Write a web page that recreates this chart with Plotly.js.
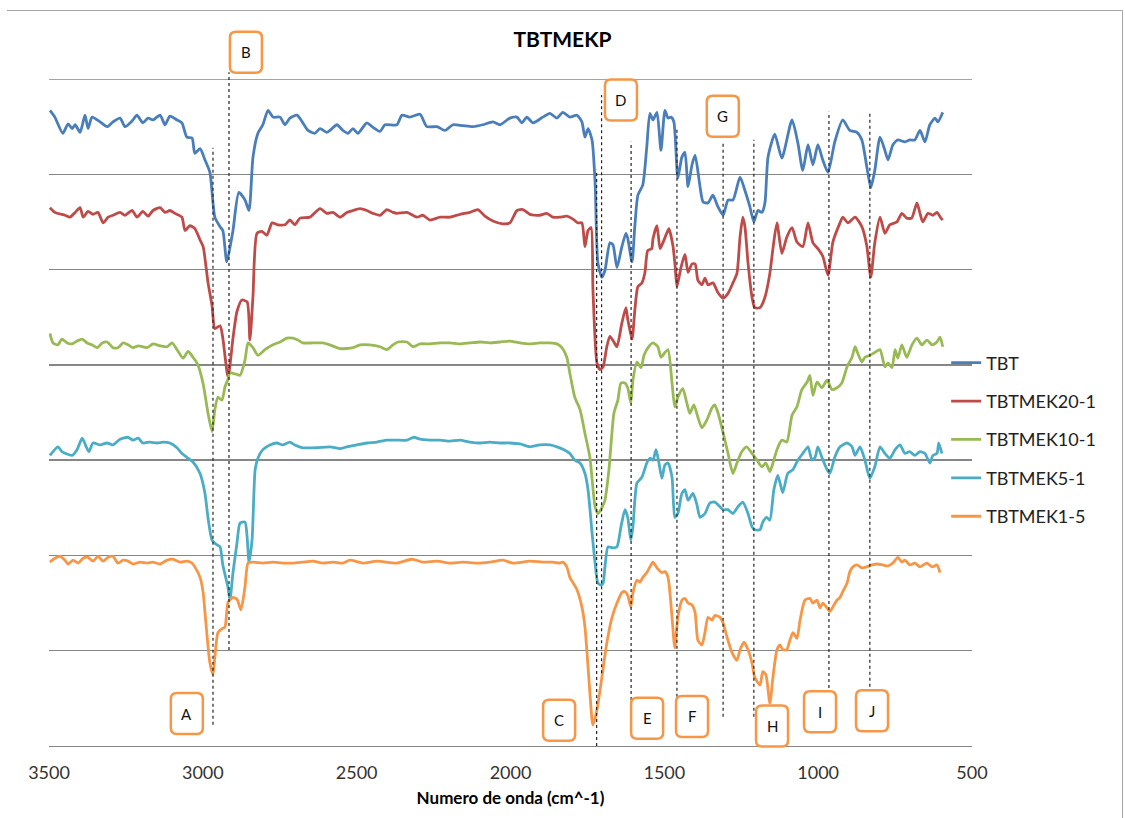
<!DOCTYPE html>
<html>
<head>
<meta charset="utf-8">
<script src="https://cdn.plot.ly/plotly-3.0.1.min.js"></script>
<style>
  html, body { margin: 0; padding: 0; background: #fff; }
  #frame { position: absolute; left: 7px; top: 10px; width: 1115px; height: 900px; border-top: 1.5px solid #a6a6a6; border-right: 1.5px solid #a6a6a6; pointer-events: none; z-index: 5; }
  #chart { position: absolute; left: 0; top: 0; width: 1125px; height: 818px; }
</style>
</head>
<body>
<div id="chart"></div>
<div id="frame"></div>
<script>
// ---------- DATA (wavenumber in cm^-1, offset transmittance in grid units) ----------
const seriesNames = ['TBT', 'TBTMEK20-1', 'TBTMEK10-1', 'TBTMEK5-1', 'TBTMEK1-5'];

const tbt = [[3497,66.7],[3481,66.0],[3455,64.3],[3438,65.3],[3425,64.8],[3415,65.2],[3399,64.4],[3383,66.2],[3373,64.8],[3360,66.0],[3334,65.5],[3311,65.0],[3292,65.5],[3269,65.9],[3253,65.0],[3230,65.6],[3214,66.2],[3195,65.4],[3178,65.9],[3162,65.7],[3139,66.2],[3123,65.2],[3107,66.1],[3084,65.7],[3068,65.4],[3052,63.9],[3035,63.8],[3026,62.2],[3009,62.7],[2993,61.5],[2977,60.2],[2961,55.5],[2944,54.5],[2935,54.1],[2922,50.8],[2902,54.1],[2883,58.1],[2863,57.3],[2850,56.2],[2837,61.8],[2821,64.3],[2805,65.2],[2788,66.7],[2772,66.0],[2749,66.0],[2733,65.2],[2717,65.9],[2694,66.2],[2675,65.4],[2658,64.6],[2636,64.3],[2619,64.8],[2597,64.4],[2587,64.6],[2564,65.2],[2545,64.6],[2528,64.3],[2512,64.8],[2496,64.3],[2467,65.4],[2450,65.0],[2424,64.5],[2408,65.2],[2369,65.2],[2353,66.2],[2327,66.0],[2294,66.3],[2272,65.0],[2239,65.0],[2213,64.6],[2187,65.2],[2155,65.1],[2122,65.0],[2090,65.2],[2057,65.5],[2034,65.2],[2002,65.9],[1979,66.0],[1963,65.4],[1947,66.0],[1927,65.4],[1895,66.0],[1872,66.4],[1849,65.9],[1830,66.5],[1807,66.0],[1784,66.2],[1768,65.5],[1758,63.9],[1748,64.8],[1735,63.6],[1725,59.1],[1716,50.7],[1703,49.2],[1693,49.9],[1677,52.8],[1667,52.6],[1654,50.2],[1638,52.4],[1625,53.8],[1619,53.3],[1605,50.8],[1596,54.5],[1586,57.8],[1570,58.9],[1557,62.9],[1547,66.4],[1537,65.7],[1524,66.5],[1511,62.5],[1498,66.7],[1488,65.9],[1478,66.0],[1469,65.5],[1456,59.6],[1443,61.8],[1433,62.3],[1423,58.7],[1410,61.0],[1400,62.0],[1384,58.7],[1374,57.1],[1358,57.0],[1342,57.8],[1326,56.6],[1309,55.7],[1293,57.3],[1277,57.3],[1254,59.7],[1238,58.3],[1222,56.6],[1209,55.0],[1196,56.2],[1183,56.0],[1173,57.0],[1163,61.8],[1141,64.2],[1118,61.7],[1085,65.7],[1066,63.3],[1050,60.4],[1033,63.1],[1017,61.0],[1001,63.1],[985,61.5],[968,60.2],[946,63.4],[920,65.7],[897,64.6],[874,64.4],[858,63.6],[842,60.8],[829,58.6],[816,60.4],[799,63.9],[783,62.5],[773,61.5],[757,63.1],[741,63.6],[718,63.4],[702,63.6],[686,63.6],[669,64.6],[653,63.4],[637,65.2],[620,65.9],[611,65.5],[595,66.5]];

const tbtmek20 = [[3497,56.5],[3481,56.0],[3448,55.7],[3432,55.5],[3415,56.0],[3399,56.5],[3389,55.5],[3373,56.1],[3357,55.8],[3341,56.0],[3324,54.9],[3308,55.5],[3292,55.7],[3269,56.0],[3253,55.7],[3230,56.2],[3214,55.5],[3195,56.1],[3178,55.6],[3162,56.2],[3139,56.5],[3123,56.0],[3107,56.2],[3091,55.9],[3068,55.5],[3058,54.1],[3042,54.6],[3026,54.3],[3009,53.1],[2999,52.4],[2983,48.6],[2970,46.2],[2961,43.8],[2944,44.1],[2935,42.8],[2918,38.7],[2902,42.8],[2889,45.6],[2873,46.8],[2856,46.6],[2847,42.6],[2837,47.2],[2824,53.8],[2808,54.0],[2792,53.6],[2775,54.9],[2756,54.7],[2733,54.7],[2717,55.2],[2701,54.7],[2684,55.4],[2652,55.5],[2619,56.4],[2597,55.9],[2577,56.0],[2554,55.5],[2532,56.0],[2512,56.2],[2489,56.4],[2467,56.2],[2447,55.9],[2424,55.7],[2402,56.3],[2382,56.0],[2369,55.9],[2337,56.0],[2304,55.5],[2285,55.7],[2262,55.2],[2229,55.5],[2197,55.5],[2164,55.8],[2132,56.0],[2106,56.3],[2083,55.6],[2057,55.1],[2025,54.8],[2002,54.9],[1979,56.2],[1960,56.3],[1937,55.8],[1905,55.7],[1882,55.9],[1862,55.5],[1840,55.5],[1817,55.6],[1797,55.3],[1781,54.9],[1768,54.9],[1758,52.4],[1748,54.1],[1738,54.4],[1732,47.9],[1719,40.2],[1709,39.5],[1699,39.8],[1687,41.9],[1677,43.0],[1664,42.4],[1654,41.9],[1638,44.4],[1625,46.0],[1619,44.8],[1605,42.7],[1596,45.7],[1586,48.2],[1573,48.6],[1563,49.7],[1554,52.0],[1541,52.2],[1537,53.2],[1524,54.6],[1514,52.2],[1505,52.8],[1491,53.9],[1485,54.3],[1472,52.5],[1465,50.4],[1459,48.2],[1446,50.2],[1433,51.6],[1423,49.7],[1410,50.6],[1400,50.6],[1391,48.9],[1378,48.4],[1368,49.1],[1358,48.4],[1342,48.6],[1326,47.6],[1309,47.0],[1293,47.5],[1277,48.6],[1264,49.6],[1254,53.4],[1245,55.5],[1238,54.5],[1228,50.7],[1215,47.1],[1206,46.0],[1189,46.0],[1173,47.1],[1157,49.6],[1147,52.2],[1134,54.9],[1118,51.7],[1102,53.4],[1085,54.4],[1069,52.9],[1050,52.4],[1033,54.9],[1017,52.8],[1001,52.2],[985,51.4],[968,49.4],[952,52.9],[929,54.9],[920,55.5],[903,54.9],[880,55.5],[858,54.5],[842,52.5],[829,49.2],[816,52.8],[799,55.5],[783,53.8],[767,54.7],[744,55.0],[728,55.9],[712,55.4],[696,55.4],[679,57.0],[669,55.9],[660,55.0],[643,55.9],[627,55.7],[614,56.0],[601,55.4],[595,55.2]];

const tbtmek10 = [[3497,43.3],[3487,42.3],[3471,42.1],[3458,42.7],[3441,42.3],[3425,42.2],[3409,42.5],[3392,42.7],[3376,42.3],[3360,42.1],[3343,41.8],[3327,42.3],[3311,42.4],[3292,41.8],[3276,41.8],[3259,42.3],[3243,42.1],[3227,41.8],[3210,42.0],[3181,41.8],[3162,42.2],[3139,42.0],[3116,41.9],[3100,42.3],[3084,41.6],[3064,40.7],[3048,41.4],[3032,40.8],[3016,40.0],[2999,38.0],[2983,34.9],[2970,33.0],[2961,35.3],[2951,36.6],[2938,36.3],[2928,37.7],[2918,38.5],[2912,39.2],[2902,39.1],[2889,39.0],[2879,38.9],[2863,40.5],[2853,42.3],[2837,41.8],[2821,41.0],[2798,41.6],[2772,42.1],[2749,42.4],[2727,42.8],[2707,42.8],[2691,42.6],[2675,42.3],[2642,42.3],[2610,42.3],[2587,42.1],[2554,41.7],[2512,41.8],[2489,42.1],[2457,42.1],[2424,41.9],[2402,41.6],[2382,42.1],[2366,42.4],[2337,42.4],[2317,41.9],[2294,42.2],[2262,42.2],[2229,42.3],[2197,42.3],[2164,42.2],[2132,42.3],[2099,42.4],[2067,42.3],[2034,42.4],[2002,42.5],[1969,42.3],[1937,42.2],[1905,42.3],[1872,42.3],[1849,42.2],[1833,41.8],[1817,40.8],[1807,39.1],[1791,36.6],[1774,35.3],[1758,32.8],[1742,30.3],[1725,25.1],[1716,24.4],[1703,25.0],[1693,25.8],[1680,29.0],[1664,34.9],[1651,36.3],[1641,38.1],[1628,38.1],[1619,37.6],[1609,36.0],[1602,38.4],[1589,40.3],[1576,39.7],[1566,41.0],[1553,41.8],[1537,42.3],[1521,41.9],[1511,40.8],[1498,41.3],[1488,41.6],[1475,38.1],[1466,35.6],[1456,36.6],[1440,37.5],[1427,36.0],[1417,34.9],[1404,35.8],[1391,34.5],[1378,33.4],[1362,34.2],[1345,35.5],[1336,35.8],[1326,35.0],[1309,32.9],[1293,30.7],[1277,28.6],[1264,29.7],[1248,30.9],[1232,31.4],[1215,30.7],[1199,30.0],[1183,29.3],[1170,29.7],[1157,28.8],[1147,29.7],[1134,31.1],[1118,32.1],[1102,31.9],[1085,34.7],[1069,35.6],[1053,37.4],[1036,38.2],[1027,38.9],[1017,36.8],[1004,38.2],[988,37.6],[971,38.4],[955,37.4],[939,37.6],[923,38.1],[906,39.8],[890,40.8],[880,41.9],[871,41.2],[858,40.3],[848,40.8],[832,41.0],[816,41.3],[799,41.6],[783,39.8],[773,40.2],[760,39.7],[750,41.6],[741,40.7],[728,42.1],[712,40.8],[695,42.1],[679,42.8],[663,42.1],[646,42.6],[630,42.1],[614,42.4],[604,42.9],[595,41.9]];

const tbtmek5 = [[3497,30.5],[3471,31.4],[3458,30.9],[3425,30.5],[3409,31.1],[3392,32.3],[3379,31.4],[3370,30.9],[3357,31.8],[3334,31.6],[3311,31.8],[3292,31.6],[3269,32.2],[3243,32.4],[3227,32.1],[3210,32.3],[3195,31.8],[3172,31.9],[3149,31.8],[3129,31.9],[3107,31.8],[3084,31.3],[3068,30.7],[3052,30.3],[3032,29.8],[3009,28.6],[2993,26.5],[2983,23.9],[2970,21.6],[2954,21.1],[2944,20.9],[2935,19.0],[2918,16.6],[2912,15.3],[2902,18.2],[2889,21.3],[2879,23.4],[2863,23.5],[2856,21.9],[2850,19.3],[2840,21.6],[2830,29.0],[2821,30.2],[2805,31.1],[2782,31.6],[2759,31.8],[2740,31.6],[2717,31.9],[2701,31.6],[2675,31.3],[2629,31.3],[2587,31.4],[2554,31.2],[2532,31.4],[2500,31.6],[2467,31.8],[2434,31.9],[2402,32.1],[2369,32.1],[2337,32.1],[2314,32.4],[2294,32.2],[2262,32.1],[2229,32.1],[2197,32.0],[2164,32.1],[2132,31.9],[2099,31.8],[2067,31.9],[2034,31.8],[2002,31.8],[1969,31.7],[1937,31.4],[1905,31.6],[1872,31.6],[1849,31.4],[1826,31.1],[1807,30.7],[1791,30.0],[1774,29.7],[1758,28.6],[1748,26.9],[1735,22.4],[1725,19.2],[1716,17.1],[1706,16.9],[1699,17.1],[1693,18.8],[1683,20.9],[1667,20.8],[1654,20.9],[1641,23.0],[1628,24.8],[1619,24.0],[1609,21.6],[1602,23.0],[1589,27.6],[1573,28.2],[1557,29.7],[1547,30.2],[1537,30.0],[1527,31.1],[1518,29.8],[1508,28.1],[1498,29.5],[1488,29.7],[1475,28.2],[1466,24.0],[1456,24.4],[1443,26.5],[1433,26.9],[1423,25.8],[1407,26.5],[1394,25.3],[1384,24.0],[1368,24.4],[1352,25.5],[1336,25.6],[1319,25.1],[1309,24.8],[1293,24.8],[1277,24.4],[1261,25.1],[1245,25.6],[1228,24.4],[1215,23.0],[1206,22.7],[1189,22.7],[1180,23.5],[1167,24.0],[1157,23.7],[1144,26.9],[1131,28.4],[1115,26.6],[1099,28.6],[1082,29.0],[1066,30.0],[1050,30.7],[1033,31.4],[1020,30.0],[1010,30.3],[1001,31.4],[988,30.3],[971,29.0],[962,28.6],[946,30.3],[929,31.4],[906,31.8],[890,31.4],[880,30.5],[864,31.4],[848,30.0],[832,28.1],[816,29.3],[799,31.4],[783,30.7],[767,30.2],[750,31.1],[734,31.6],[718,30.7],[702,30.9],[686,30.5],[669,30.9],[653,30.7],[637,29.7],[627,30.5],[614,30.7],[608,31.8],[598,30.7]];

const tbtmek15 = [[3497,19.3],[3481,19.7],[3464,19.9],[3448,19.5],[3438,19.1],[3422,19.5],[3405,19.2],[3389,19.7],[3373,19.8],[3357,19.4],[3341,19.9],[3324,19.4],[3308,19.8],[3292,19.9],[3276,19.2],[3259,19.5],[3243,19.4],[3227,19.1],[3204,19.3],[3181,19.2],[3162,19.3],[3139,19.1],[3116,19.5],[3097,19.6],[3074,19.3],[3052,19.4],[3035,19.2],[3026,18.8],[3009,17.7],[2999,16.1],[2993,14.0],[2983,10.4],[2977,8.7],[2967,7.5],[2961,9.3],[2951,11.9],[2938,12.3],[2928,12.5],[2918,15.1],[2902,15.6],[2889,15.4],[2876,14.3],[2863,16.7],[2853,19.2],[2837,19.3],[2805,19.2],[2772,19.3],[2740,19.2],[2707,19.2],[2675,19.3],[2642,19.4],[2610,19.2],[2577,19.3],[2545,19.2],[2522,19.5],[2480,19.2],[2434,19.4],[2369,19.2],[2320,19.6],[2285,19.3],[2239,19.4],[2197,19.2],[2155,19.3],[2109,19.2],[2067,19.3],[2025,19.5],[1992,19.2],[1937,19.4],[1895,19.3],[1862,19.3],[1840,19.2],[1830,19.3],[1817,18.8],[1807,17.7],[1784,16.4],[1768,14.6],[1758,12.5],[1748,8.3],[1735,2.7],[1732,2.2],[1719,3.8],[1703,7.2],[1687,10.8],[1670,13.5],[1654,15.0],[1638,16.1],[1628,16.2],[1619,15.8],[1609,14.6],[1602,16.1],[1589,17.4],[1579,17.2],[1570,17.7],[1557,18.2],[1547,18.8],[1537,19.3],[1524,18.7],[1508,18.2],[1498,18.3],[1488,17.7],[1475,13.5],[1466,10.3],[1456,13.5],[1443,15.3],[1433,15.5],[1423,15.0],[1410,14.8],[1400,14.0],[1391,11.1],[1378,10.6],[1368,11.9],[1358,13.5],[1345,13.2],[1336,13.7],[1319,13.5],[1309,12.9],[1296,11.4],[1280,9.8],[1264,9.0],[1254,10.1],[1241,10.9],[1228,10.1],[1215,8.7],[1206,7.2],[1189,6.4],[1180,7.8],[1170,7.5],[1157,4.5],[1147,7.2],[1134,10.1],[1124,10.6],[1115,10.1],[1102,10.1],[1092,11.1],[1082,11.9],[1069,11.3],[1059,13.2],[1043,15.3],[1027,15.5],[1017,15.0],[1004,15.3],[994,14.5],[985,15.0],[971,14.5],[962,14.1],[952,14.6],[939,15.3],[929,15.6],[920,16.2],[906,17.1],[897,18.3],[887,18.8],[874,19.0],[858,18.7],[842,18.8],[825,19.0],[809,19.1],[790,19.0],[773,18.9],[757,19.2],[741,19.8],[728,19.3],[718,19.5],[702,19.0],[686,19.2],[669,18.8],[647,19.2],[630,18.8],[614,19.0],[604,18.2]];

// x-axis ticks
const xTickVals = [3500, 3000, 2500, 2000, 1500, 1000, 500];
const xTickText = ['3500', '3000', '2500', '2000', '1500', '1000', '500'];

// peak markers (letter, wavenumber of dotted line)
const peakLetters = ['A', 'B', 'C', 'D', 'E', 'F', 'G', 'H', 'I', 'J'];
const peakWavenumbers = [2967, 2915, 1720, 1704, 1608, 1459, 1309, 1209, 965, 832];

// ---------- LAYOUT HELPERS (positions / styles) ----------
const colors = ['#4A7EBB', '#BE4B48', '#98B954', '#4BACC6', '#F79646'];
const allSeries = [tbt, tbtmek20, tbtmek10, tbtmek5, tbtmek15];
const FONT = 'Lato, "Liberation Sans", Arial, sans-serif';
const YMAX = 70;

// dotted line extents (paper y)
const lineTop =    [0.897, 1.010, 0.864, 0.976, 0.906, 0.927, 0.907, 0.909, 0.951, 0.949];
const lineBottom = [0.032, 0.144, 0.000, 0.109, 0.069, 0.074, 0.044, 0.044, 0.087, 0.089];
// label box centres (x in cm^-1, y in grid units)
const boxWn =  [3052, 2860, 1842, 1641, 1556, 1410, 1310, 1150, 994, 825];
const boxVal = [3.4, 72.8, 2.7, 67.8, 2.9, 3.1, 66.1, 2.1, 3.6, 3.7];

const traces = allSeries.map((s, i) => ({
  type: 'scatter', mode: 'lines', name: seriesNames[i],
  x: s.map(p => p[0]), y: s.map(p => p[1]),
  line: { color: colors[i], width: 2.8, shape: 'spline', smoothing: 0.6 },
  legendgroup: 'g' + i
}));

const shapes = [
  // top gridline at the upper edge of the value range
  { type: 'line', xref: 'paper', yref: 'y', x0: 0, x1: 1, y0: YMAX, y1: YMAX,
    line: { color: '#868686', width: 1.3 }, layer: 'below' }
];
const annotations = [];
peakWavenumbers.forEach((wn, i) => {
  shapes.push({ type: 'line', xref: 'x', yref: 'paper', x0: wn, x1: wn, y0: lineBottom[i], y1: lineTop[i],
    line: { color: '#222', width: 1.2, dash: 'dot' }, layer: 'above' });
});
const bw = 32 / 923, bh = 41 / 667, rx = 6 / 923, ry = 6 / 667;
peakLetters.forEach((L, i) => {
  const cx = (3500 - boxWn[i]) / 3000, cy = boxVal[i] / YMAX;
  const x0 = cx - bw / 2, x1 = cx + bw / 2, y0 = cy - bh / 2, y1 = cy + bh / 2;
  const path = `M ${x0 + rx},${y0} L ${x1 - rx},${y0} Q ${x1},${y0} ${x1},${y0 + ry} L ${x1},${y1 - ry} Q ${x1},${y1} ${x1 - rx},${y1} L ${x0 + rx},${y1} Q ${x0},${y1} ${x0},${y1 - ry} L ${x0},${y0 + ry} Q ${x0},${y0} ${x0 + rx},${y0} Z`;
  shapes.push({ type: 'path', xref: 'paper', yref: 'paper', path: path, fillcolor: '#ffffff',
    line: { color: '#F79646', width: 2.5 }, layer: 'above' });
  annotations.push({ xref: 'paper', yref: 'paper', x: cx, y: cy, text: L, showarrow: false,
    font: { family: FONT, size: 15, color: '#111' }, xanchor: 'center', yanchor: 'middle' });
});

const layout = {
  width: 1125, height: 818,
  margin: { l: 49, r: 153, t: 79, b: 72 },
  paper_bgcolor: '#ffffff', plot_bgcolor: '#ffffff',
  font: { family: FONT, color: '#333' },
  title: { text: '<b>TBTMEKP</b>', xref: 'container', x: 0.5, xanchor: 'center',
           yref: 'container', y: 1 - 40 / 818, yanchor: 'middle',
           font: { family: FONT, size: 21, color: '#000' } },
  xaxis: {
    range: [3500, 500], tickvals: xTickVals, ticktext: xTickText,
    showgrid: false, zeroline: false, showline: true, linecolor: '#868686', linewidth: 1.3,
    ticks: '', ticklabelstandoff: 10,
    tickfont: { family: FONT, size: 18, color: '#333' },
    title: { text: '<b>Numero de onda (cm^-1)</b>', standoff: 10, font: { family: FONT, size: 17, color: '#000' } }
  },
  yaxis: {
    range: [0, YMAX], dtick: 10, tick0: 0, showticklabels: false, ticks: '',
    showgrid: true, gridcolor: '#868686', gridwidth: 1.3, zeroline: false, showline: false
  },
  showlegend: true,
  legend: {
    x: 0.972, xanchor: 'left', y: 0.602, yanchor: 'top',
    font: { family: FONT, size: 18, color: '#222' },
    tracegroupgap: 12, traceorder: 'grouped', bgcolor: 'rgba(0,0,0,0)'
  },
  shapes: shapes, annotations: annotations
};

Plotly.newPlot('chart', traces, layout, { displayModeBar: false, staticPlot: true });
</script>
</body>
</html>
